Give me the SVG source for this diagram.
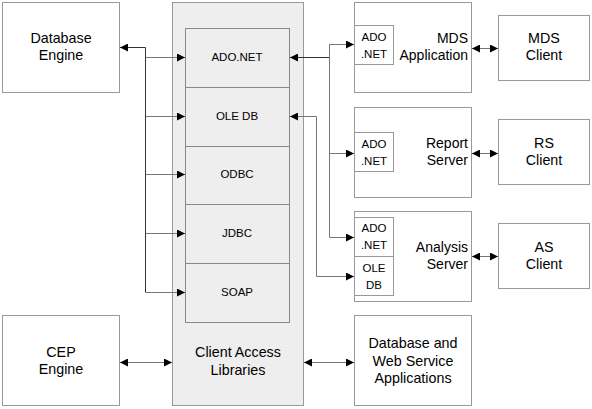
<svg xmlns="http://www.w3.org/2000/svg" width="592" height="409" viewBox="0 0 592 409">
<style>
.box{fill:#ffffff;stroke:#999999;stroke-width:1}
.lib{fill:#eeeeee;stroke:#999999;stroke-width:1}
.sub{fill:#eeeeee;stroke:#888888;stroke-width:1}
.in{fill:#ffffff;stroke:#999999;stroke-width:1}
text{font-family:"Liberation Sans",Arial,sans-serif;fill:#000000}
.t{font-size:14.3px;text-anchor:middle}
.tr{font-size:14px;text-anchor:end}
.s{font-size:11.5px;text-anchor:middle}
.c{fill:none;stroke:#777777;stroke-width:1}
.d{fill:none;stroke:#333333;stroke-width:1}
</style>
<defs>
<marker id="ah" viewBox="0 0 8 8" refX="8" refY="4" markerWidth="8" markerHeight="8" markerUnits="userSpaceOnUse" orient="auto-start-reverse">
<path d="M0,0 L8,4 L0,8 Z" fill="#000000"/>
</marker>
</defs>
<g id="database-engine"><rect class="box" x="2.5" y="2.5" width="117" height="90"/><text class="t" x="61" y="43">Database</text><text class="t" x="61" y="60">Engine</text></g>
<g id="cep-engine"><rect class="box" x="2.5" y="315.5" width="117" height="90"/><text class="t" x="61" y="357">CEP</text><text class="t" x="61" y="374">Engine</text></g>
<g id="client-access-libraries"><rect class="lib" x="172.5" y="2.5" width="131" height="403"/><text class="t" x="238" y="357">Client Access</text><text class="t" x="238" y="375">Libraries</text></g>
<g id="ado-net"><rect class="sub" x="185.5" y="28.5" width="104" height="59"/><text class="s" x="237" y="61">ADO.NET</text></g>
<g id="ole-db"><rect class="sub" x="185.5" y="87.5" width="104" height="59"/><text class="s" x="237" y="120">OLE DB</text></g>
<g id="odbc"><rect class="sub" x="185.5" y="146.5" width="104" height="58"/><text class="s" x="237" y="178">ODBC</text></g>
<g id="jdbc"><rect class="sub" x="185.5" y="204.5" width="104" height="59"/><text class="s" x="237" y="237">JDBC</text></g>
<g id="soap"><rect class="sub" x="185.5" y="263.5" width="104" height="59"/><text class="s" x="237" y="296">SOAP</text></g>
<g id="mds-application"><rect class="box" x="354.5" y="2.5" width="117" height="90"/><rect class="in" x="354.5" y="25.5" width="39" height="39"/><text class="s" x="374" y="41">ADO</text><text class="s" x="374" y="58">.NET</text><text class="tr" x="468" y="43">MDS</text><text class="tr" x="468" y="60">Application</text></g>
<g id="mds-client"><rect class="box" x="498.5" y="15.5" width="91" height="65"/><text class="t" x="544" y="43">MDS</text><text class="t" x="544" y="60">Client</text></g>
<g id="report-server"><rect class="box" x="354.5" y="107.5" width="117" height="90"/><rect class="in" x="354.5" y="132.5" width="39" height="39"/><text class="s" x="374" y="148">ADO</text><text class="s" x="374" y="165">.NET</text><text class="tr" x="468" y="148">Report</text><text class="tr" x="468" y="165">Server</text></g>
<g id="rs-client"><rect class="box" x="498.5" y="119.5" width="91" height="65"/><text class="t" x="544" y="148">RS</text><text class="t" x="544" y="165">Client</text></g>
<g id="analysis-server"><rect class="box" x="354.5" y="211.5" width="117" height="90"/><rect class="in" x="354.5" y="217.5" width="39" height="39"/><text class="s" x="374" y="232">ADO</text><text class="s" x="374" y="249">.NET</text><rect class="in" x="354.5" y="256.5" width="39" height="39"/><text class="s" x="374" y="272">OLE</text><text class="s" x="374" y="289">DB</text><text class="tr" x="468" y="252">Analysis</text><text class="tr" x="468" y="269">Server</text></g>
<g id="as-client"><rect class="box" x="498.5" y="223.5" width="91" height="65"/><text class="t" x="544" y="252">AS</text><text class="t" x="544" y="269">Client</text></g>
<g id="db-web-apps"><rect class="box" x="354.5" y="315.5" width="117" height="90"/><text class="t" x="413" y="348">Database and</text><text class="t" x="413" y="366">Web Service</text><text class="t" x="413" y="383">Applications</text></g>
<g id="connectors">
<path class="d" d="M145.5,292.5 L145.5,47.5 L120,47.5" marker-end="url(#ah)"/>
<path class="c" d="M145.5,57.5 L185,57.5" marker-end="url(#ah)"/>
<path class="c" d="M145.5,116.5 L185,116.5" marker-end="url(#ah)"/>
<path class="c" d="M145.5,174.5 L185,174.5" marker-end="url(#ah)"/>
<path class="c" d="M145.5,233.5 L185,233.5" marker-end="url(#ah)"/>
<path class="c" d="M145.5,292.5 L185,292.5" marker-end="url(#ah)"/>
<path class="c" d="M120,362.5 L172,362.5" marker-start="url(#ah)" marker-end="url(#ah)"/>
<path class="c" d="M304,362.5 L354,362.5" marker-start="url(#ah)" marker-end="url(#ah)"/>
<path class="d" d="M329.5,57.5 L290,57.5" marker-end="url(#ah)"/>
<path class="c" d="M329.5,237.5 L329.5,44.5 L354,44.5" marker-end="url(#ah)"/>
<path class="c" d="M329.5,153.5 L354,153.5" marker-end="url(#ah)"/>
<path class="c" d="M329.5,237.5 L354,237.5" marker-end="url(#ah)"/>
<path class="c" d="M316.5,116.5 L290,116.5" marker-end="url(#ah)"/>
<path class="c" d="M316.5,116.5 L316.5,276.5 L354,276.5" marker-end="url(#ah)"/>
<path class="c" d="M472,48.5 L498,48.5" marker-start="url(#ah)" marker-end="url(#ah)"/>
<path class="c" d="M472,153.5 L498,153.5" marker-start="url(#ah)" marker-end="url(#ah)"/>
<path class="c" d="M472,256.5 L498,256.5" marker-start="url(#ah)" marker-end="url(#ah)"/>
</g>
</svg>
